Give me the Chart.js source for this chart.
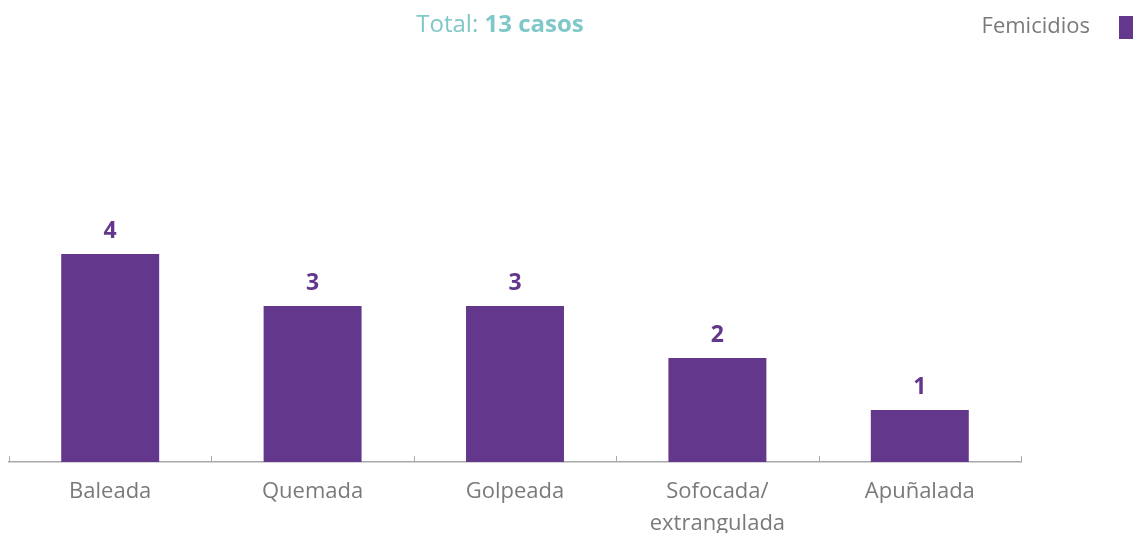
<!DOCTYPE html>
<html><head><meta charset="utf-8">
<script src="https://cdn.jsdelivr.net/npm/chart.js@4"></script>
<style>html,body{margin:0;padding:0;background:#fff;overflow:hidden}#w{width:1133px;height:533px;position:relative}</style>
</head><body><div id="w"><canvas id="c"></canvas></div>
<script>
const categories = ['Baleada','Quemada','Golpeada',['Sofocada/','extrangulada'],'Apuñalada'];
const femicidios = [4,3,3,2,1];
const seriesName = 'Femicidios';
const titleNormal = 'Total: ';
const titleBold = '13 casos';

const PURPLE = '#63378b';
const TEAL = '#7fc7c8';
const GRAY = '#7a7a7c';
const FONT = "'Open Sans', sans-serif";

const extras = {
  id:'extras',
  afterDatasetsDraw(chart){
    const ctx = chart.ctx;
    const meta = chart.getDatasetMeta(0);
    ctx.save();
    // value labels
    ctx.fillStyle = PURPLE;
    ctx.font = "700 23px " + FONT;
    ctx.textAlign = 'center';
    ctx.textBaseline = 'middle';
    meta.data.forEach((bar,i)=>{
      ctx.fillText(String(chart.data.datasets[0].data[i]), bar.x, bar.y - 23);
    });
    // tick marks on x axis (upward)
    const ca = chart.chartArea;
    const n = chart.data.labels.length;
    const w = (ca.right - ca.left)/n;
    ctx.strokeStyle = '#a9a9ab';
    ctx.lineWidth = 1;
    for (let i=0;i<=n;i++){
      const px = Math.round(ca.left + i*w) + 0.5;
      ctx.beginPath(); ctx.moveTo(px, ca.bottom - 6); ctx.lineTo(px, ca.bottom); ctx.stroke();
    }
    // title
    ctx.textBaseline = 'middle';
    ctx.textAlign = 'left';
    ctx.fillStyle = TEAL;
    ctx.font = "400 24px " + FONT;
    const w1 = ctx.measureText(titleNormal).width;
    ctx.font = "700 24px " + FONT;
    const w2 = ctx.measureText(titleBold).width;
    let tx = 500 - (w1+w2)/2;
    ctx.font = "400 24px " + FONT;
    ctx.fillText(titleNormal, tx, 25);
    ctx.font = "700 24px " + FONT;
    ctx.fillText(titleBold, tx + w1, 25);
    // legend
    const ds = chart.data.datasets[0];
    ctx.fillStyle = ds.backgroundColor;
    ctx.fillRect(1119, 16, 20, 23);
    ctx.fillStyle = GRAY;
    ctx.font = "400 22px " + FONT;
    ctx.textAlign = 'right';
    ctx.fillText(ds.label, 1090, 27);
    ctx.restore();
  }
};

new Chart(document.getElementById('c'), {
  type:'bar',
  data:{ labels: categories, datasets:[{ label: seriesName, data: femicidios, backgroundColor: PURPLE, barPercentage:0.484, categoryPercentage:1 }]},
  options:{
    responsive:true, maintainAspectRatio:false, animation:false,
    layout:{ padding:{ left:9, right:112, top:46, bottom:0 } },
    plugins:{ legend:{display:false}, title:{display:false}, tooltip:{enabled:false} },
    scales:{
      y:{ display:false, min:0, max:8 },
      x:{
        grid:{ display:false, drawTicks:false },
        border:{ display:true, color:'#a9a9ab', width:1.5 },
        ticks:{ color:GRAY, font:{ family:"'Open Sans'", size:22, weight:'400', lineHeight:1.45 }, padding:14, maxRotation:0, autoSkip:false },
        afterFit(s){ s.height = 71; }
      }
    }
  },
  plugins:[extras]
});
</script></body></html>
